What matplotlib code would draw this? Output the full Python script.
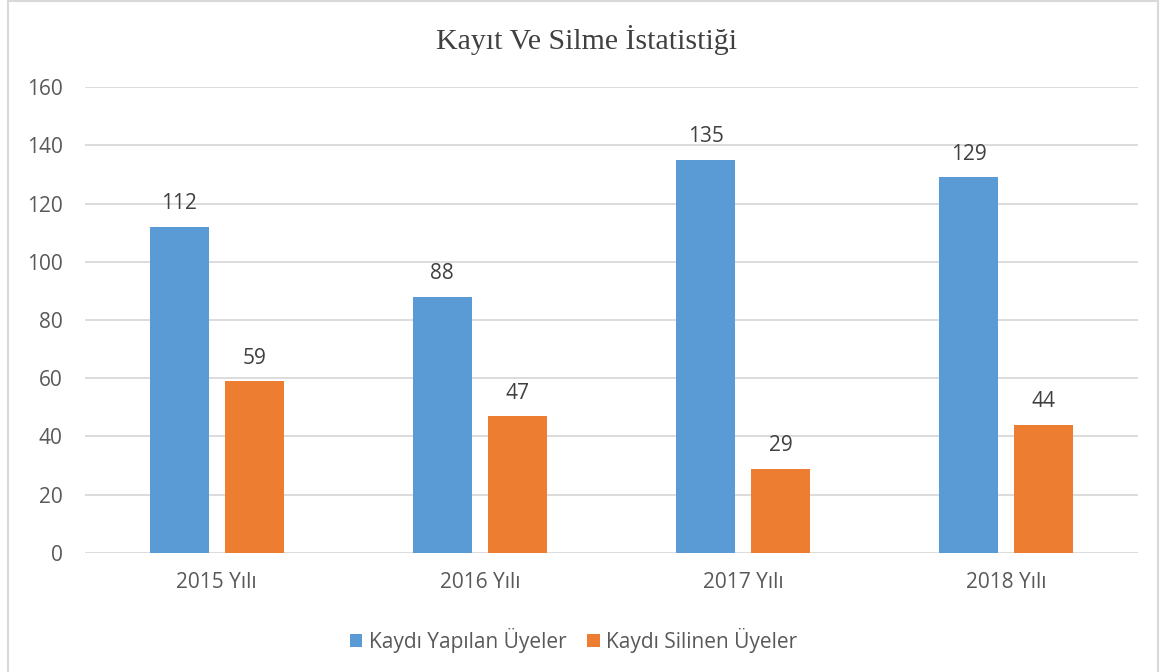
import numpy as np
import matplotlib.pyplot as plt
from matplotlib.patches import Rectangle

# data
categories = ['2015 Yılı', '2016 Yılı', '2017 Yılı', '2018 Yılı']
kayit = [112, 88, 135, 129]
silme = [59, 47, 29, 44]
series_names = ['Kaydı Yapılan Üyeler', 'Kaydı Silinen Üyeler']
title = 'Kayıt Ve Silme İstatistiği'

blue = '#5B9BD5'
orange = '#ED7D31'
txt = '#595959'
grid = '#D9D9D9'

plt.rcParams['font.family'] = ['Open Sans', 'DejaVu Sans']

fig = plt.figure(figsize=(11.62, 6.72), dpi=100)
ax = fig.add_axes([0.0731, 0.1771, 0.9062, 0.6934])

x = np.arange(len(categories))
w = 0.224
off = 0.1426
b1 = ax.bar(x - off, kayit, w, color=blue, label=series_names[0], zorder=3)
b2 = ax.bar(x + off, silme, w, color=orange, label=series_names[1], zorder=3)

for bars, vals in ((b1, kayit), (b2, silme)):
    for r, v in zip(bars, vals):
        ax.annotate(str(v), (r.get_x() + r.get_width() / 2, v), xytext=(0, 9),
                    textcoords='offset points', ha='center', va='bottom',
                    fontsize=15, color='#404040')

ax.set_xlim(-0.5, 3.5)
ax.set_ylim(0, 160)
ax.set_yticks(range(0, 161, 20))
ax.set_xticks(x)
ax.set_xticklabels(categories)
ax.yaxis.grid(True, color=grid, linewidth=1.3, zorder=0)
ax.set_axisbelow(True)
for s in ax.spines.values():
    s.set_visible(False)
ax.tick_params(length=0, labelsize=15, colors=txt)
ax.tick_params(axis='y', pad=16)
ax.tick_params(axis='x', pad=14)

fig.text(587 / 1162, 1 - 40 / 672, title, fontsize=21.5, family='Liberation Serif',
         color='#404040', ha='center', va='center')

ax.legend(loc='upper center', bbox_to_anchor=(0.464, -0.12), ncol=2, frameon=False,
          fontsize=15, labelcolor=txt, handlelength=0.6, handleheight=0.6,
          handletextpad=0.3, columnspacing=1.0)

# chart area border
fig.patches.append(Rectangle((8 / 1162, -0.05), 1150 / 1162, 1.048, transform=fig.transFigure,
                             fill=False, edgecolor=grid, linewidth=1.5))

plt.savefig('out.png', dpi=100)
